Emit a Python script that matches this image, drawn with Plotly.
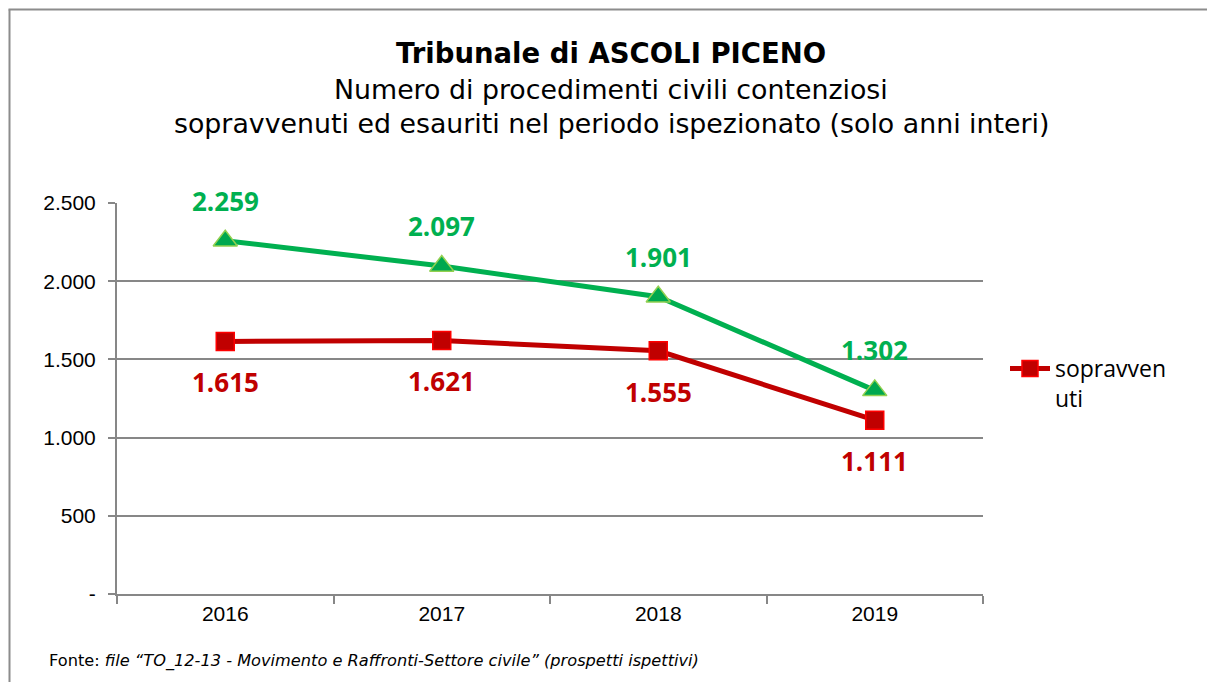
import plotly.graph_objects as go

years = ["2016", "2017", "2018", "2019"]
sopravvenuti = [1615, 1621, 1555, 1111]
esauriti = [2259, 2097, 1901, 1302]
y_tickvals = [0, 500, 1000, 1500, 2000, 2500]
y_ticktext = ["-", "500", "1.000", "1.500", "2.000", "2.500"]

OFF = 8  # page body margin
W, H = 1215 - OFF, 682 - OFF
L, R, T, B = 117 - OFF, 983 - OFF, 203 - OFF, 594 - OFF


def px_x(px):
    return (px - OFF - L) / (R - L)


def px_y(py):
    return (B - (py - OFF)) / (B - T)


def fmt(v):
    return f"{v:,}".replace(",", ".")


RED = "#C00000"
GREEN = "#00B050"

fig = go.Figure()
fig.add_trace(go.Scatter(
    x=years, y=esauriti, name="esauriti", mode="lines+markers",
    line=dict(color=GREEN, width=5),
    marker=dict(symbol="triangle-up", size=21, color="#00A84F",
                line=dict(color="#92D050", width=1.5)),
    showlegend=False, cliponaxis=False,
))
fig.add_trace(go.Scatter(
    x=years, y=sopravvenuti, name="sopravven<br>uti", mode="lines+markers",
    line=dict(color=RED, width=5),
    marker=dict(symbol="square", size=18, color=RED,
                line=dict(color="#FF0000", width=1.5)),
    cliponaxis=False,
))

annotations = []
for i, v in enumerate(esauriti):
    annotations.append(dict(x=i, y=v, xref="x", yref="y", text=fmt(v),
                            showarrow=False, yshift=40,
                            font=dict(family="Open Sans", size=26, color=GREEN, weight="bold")))
for i, v in enumerate(sopravvenuti):
    annotations.append(dict(x=i, y=v, xref="x", yref="y", text=fmt(v),
                            showarrow=False, yshift=-41,
                            font=dict(family="Open Sans", size=26, color=RED, weight="bold")))

title_font = "DejaVu Sans"
annotations += [
    dict(x=px_x(611), y=px_y(53), xref="paper", yref="paper", showarrow=False,
         text="<b>Tribunale di ASCOLI PICENO</b>", xanchor="center", yanchor="middle",
         font=dict(family=title_font, size=27.5, color="black")),
    dict(x=px_x(611), y=px_y(89), xref="paper", yref="paper", showarrow=False,
         text="Numero di procedimenti civili contenziosi", xanchor="center", yanchor="middle",
         font=dict(family=title_font, size=26.8, color="black")),
    dict(x=px_x(611), y=px_y(123), xref="paper", yref="paper", showarrow=False,
         text="sopravvenuti ed esauriti nel periodo ispezionato (solo anni interi)",
         xanchor="center", yanchor="middle",
         font=dict(family=title_font, size=26.8, color="black")),
    dict(x=px_x(47), y=px_y(661), xref="paper", yref="paper", showarrow=False,
         text="Fonte: <i>file “TO_12-13 - Movimento e Raffronti-Settore civile” (prospetti ispettivi)</i>",
         xanchor="left", yanchor="middle",
         font=dict(family=title_font, size=16.2, color="black")),
]

shapes = [
    dict(type="line", xref="paper", yref="paper", x0=px_x(9.5), x1=px_x(9.5),
         y0=px_y(700), y1=px_y(9.5), line=dict(color="#8C8C8C", width=2)),
    dict(type="line", xref="paper", yref="paper", x0=px_x(8.5), x1=px_x(1230),
         y0=px_y(9.5), y1=px_y(9.5), line=dict(color="#8C8C8C", width=2)),
]

fig.update_layout(
    width=W, height=H,
    margin=dict(l=L, r=W - R, t=T, b=H - B, pad=0),
    paper_bgcolor="white", plot_bgcolor="white",
    annotations=annotations, shapes=shapes,
    font=dict(family="Liberation Sans", size=21, color="black"),
    showlegend=True,
    legend=dict(x=px_x(1005), y=px_y(347), xanchor="left", yanchor="top",
                valign="top", font=dict(family="Open Sans", size=23, color="black"),
                bgcolor="rgba(0,0,0,0)", itemwidth=40),
    xaxis=dict(type="category", range=[-0.5, 3.5], showgrid=False,
               showline=True, linecolor="#878787", linewidth=2,
               ticks="outside", tickson="boundaries", ticklen=8, tickwidth=2,
               tickcolor="#878787", tickfont=dict(family="Liberation Sans", size=21),
               fixedrange=True),
    yaxis=dict(range=[0, 2500], tickvals=y_tickvals, ticktext=y_ticktext,
               showgrid=True, gridcolor="#878787", gridwidth=2,
               showline=True, linecolor="#878787", linewidth=2,
               ticks="outside", ticklen=7, tickwidth=2, tickcolor="#878787",
               tickfont=dict(family="Liberation Sans", size=21), zeroline=False,
               ticklabelstandoff=8, fixedrange=True),
)

fig.write_html("out.html")
